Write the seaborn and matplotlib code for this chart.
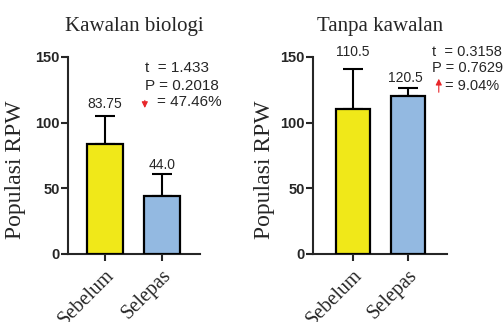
import numpy as np
import pandas as pd
import seaborn as sns
import matplotlib.pyplot as plt

# 数据
categories = ["Sebelum", "Selepas"]
titles = ["Kawalan biologi", "Tanpa kawalan"]
means_kawalan = [83.75, 44.0]
err_kawalan = [21.3, 17.0]
means_tanpa = [110.5, 120.5]
err_tanpa = [30.5, 5.9]
label_kawalan = ["83.75", "44.0"]
label_tanpa = ["110.5", "120.5"]
stats_kawalan = ["t  = 1.433", "P = 0.2018", "= 47.46%"]
stats_tanpa = ["t  = 0.3158", "P = 0.7629", "= 9.04%"]
bar_colors = ["#F0E819", "#93B9E1"]

sns.set_style("ticks")
plt.rcParams['font.family'] = ['Liberation Sans', 'DejaVu Sans']
serif = ['Liberation Serif', 'DejaVu Serif']

fig = plt.figure(figsize=(5.03, 3.22), dpi=100)
ax1 = fig.add_axes([0.1352, 0.2112, 0.2624, 0.612])
ax2 = fig.add_axes([0.6223, 0.2112, 0.2664, 0.612])

panels = [
    (ax1, titles[0], means_kawalan, err_kawalan, (-0.65, 1.67), -0.32),
    (ax2, titles[1], means_tanpa, err_tanpa, (-0.73, 1.71), -0.28),
]

for ax, title, means, errs, xlim, lab_x in panels:
    df = pd.DataFrame({"kumpulan": categories, "populasi": means})
    sns.barplot(data=df, x="kumpulan", y="populasi", hue="kumpulan", palette=bar_colors,
                saturation=1, width=0.62, edgecolor="black", linewidth=1.6, ax=ax,
                legend=False, zorder=3)
    # error bar hanya ke atas
    ax.errorbar(range(len(means)), means, yerr=[np.zeros(len(errs)), errs], fmt="none",
                ecolor="black", elinewidth=1.5, capsize=7, capthick=1.5, zorder=2)
    ax.set_xlim(*xlim)
    ax.set_ylim(0, 150)
    ax.set_yticks([0, 50, 100, 150])
    ax.set_xlabel("")
    ax.set_ylabel("Populasi RPW", family=serif, fontsize=17)
    ax.yaxis.set_label_coords(lab_x, 0.43)
    ax.set_title(title, family=serif, fontsize=15, pad=19)
    sns.despine(ax=ax)
    for s in ["left", "bottom"]:
        ax.spines[s].set_linewidth(1.5)
    ax.tick_params(axis="both", width=1.5, length=5)
    ax.tick_params(axis="y", labelsize=10.5, pad=1)
    for lab in ax.get_yticklabels():
        lab.set_fontweight("bold")
    ax.set_xticks(range(len(categories)))
    ax.set_xticklabels(categories, rotation=45, ha="right", rotation_mode="anchor",
                       family=serif, fontsize=14.5)

# label nilai
for i, lab in enumerate(label_kawalan):
    ax1.annotate(lab, (i, means_kawalan[i] + err_kawalan[i]), xytext=(0, [12, 9][i]),
                 textcoords="offset pixels", ha="center", va="center", fontsize=10)
for i, lab in enumerate(label_tanpa):
    ax2.annotate(lab, (i, means_tanpa[i] + err_tanpa[i]), xytext=([0, -3][i], [17, 10][i]),
                 textcoords="offset pixels", ha="center", va="center", fontsize=10,
                 annotation_clip=False)

# statistik
for y, s in zip([141.6, 127.9], stats_kawalan[:2]):
    ax1.text(0.70, y, s, ha="left", va="center", fontsize=11)
ax1.text(0.91, 115.7, stats_kawalan[2], ha="left", va="center", fontsize=11)
ax1.annotate("", xy=(0.70, 109), xytext=(0.70, 119),
             arrowprops=dict(arrowstyle="-|>", color="#E8262A", lw=0.8, mutation_scale=9))

for y, s in zip([153.8, 141.6], stats_tanpa[:2]):
    ax2.text(1.43, y, s, ha="left", va="center", fontsize=10.5, clip_on=False)
ax2.text(1.68, 127.9, stats_tanpa[2], ha="left", va="center", fontsize=10.5, clip_on=False)
ax2.annotate("", xy=(1.56, 135.5), xytext=(1.56, 121),
             arrowprops=dict(arrowstyle="-|>", color="#E8262A", lw=0.8, mutation_scale=9),
             annotation_clip=False)

plt.savefig("out.png", dpi=100)
